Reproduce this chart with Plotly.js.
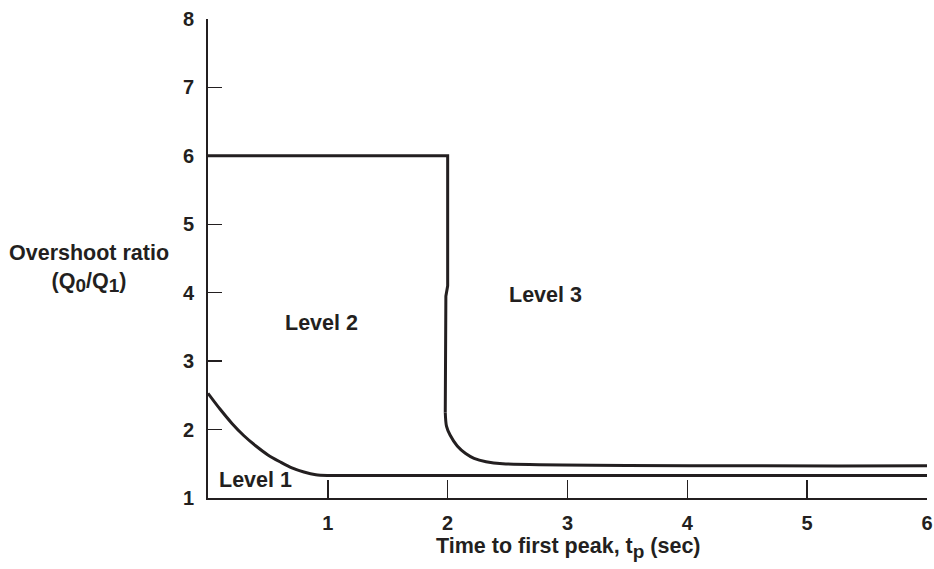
<!DOCTYPE html>
<html>
<head>
<meta charset="utf-8">
<script src="https://cdn.plot.ly/plotly-3.0.1.min.js"></script>
<style>html,body{margin:0;padding:0;background:#fff;}#chart{width:934px;height:569px;}</style>
</head>
<body>
<div id="chart"></div>
<script>
// Level 1 / Level 2 boundary
const level1X = [0, 0.1, 0.2, 0.3, 0.4, 0.5, 0.6, 0.7, 0.8, 0.9, 1.0, 6];
const level1Y = [2.53, 2.30, 2.09, 1.91, 1.76, 1.63, 1.53, 1.44, 1.38, 1.34, 1.33, 1.33];
// Level 2 / Level 3 boundary: upper straight part
const level2TopX = [0, 2, 2, 1.985, 1.98];
const level2TopY = [6, 6, 4.1, 3.95, 2.25];
// Level 2 / Level 3 boundary: lower rounded part
const level2LowX = [1.98, 1.99, 2.02, 2.08, 2.15, 2.22, 2.32, 2.46, 6];
const level2LowY = [2.25, 2.05, 1.92, 1.76, 1.65, 1.58, 1.53, 1.50, 1.47];
// Region labels
const regionNames = ["Level 1", "Level 2", "Level 3"];
const regionX = [0.40, 0.95, 2.82];
const regionY = [1.27, 3.56, 3.97];
// Ticks
const xTicks = [1, 2, 3, 4, 5, 6];
const yTicks = [1, 2, 3, 4, 5, 6, 7, 8];

const ink = '#231f20';
const family = 'Liberation Sans, Arial, sans-serif';
const font = {family: family, size: 21.5, color: ink};
const tickFont = {family: family, size: 20, color: ink};
const lineStyle = {color: ink, width: 3};
const sub = s => '<sub><span style="font-size:19px">' + s + '</span></sub>';

const traces = [
  {x: level1X, y: level1Y, mode: 'lines', line: Object.assign({shape: 'spline', smoothing: 0.8}, lineStyle), cliponaxis: false, hoverinfo: 'skip'},
  {x: level2TopX, y: level2TopY, mode: 'lines', line: Object.assign({shape: 'linear'}, lineStyle), cliponaxis: false, hoverinfo: 'skip'},
  {x: level2LowX, y: level2LowY, mode: 'lines', line: Object.assign({shape: 'spline', smoothing: 0.8}, lineStyle), cliponaxis: false, hoverinfo: 'skip'}
];

const annotations = regionNames.map((t, i) => ({
  text: '<b>' + t + '</b>', x: regionX[i], y: regionY[i], xref: 'x', yref: 'y',
  showarrow: false, xanchor: 'center', yanchor: 'middle', font: font
}));
annotations.push({
  text: '<b>Overshoot ratio</b><br><b>(Q' + sub('<b>0</b>') + '/Q' + sub('<b>1</b>') + ')</b>',
  xref: 'paper', yref: 'paper', x: -0.165, y: 0.48, xanchor: 'center', yanchor: 'middle',
  showarrow: false, font: font, align: 'center'
});
annotations.push({
  text: '<b>Time to first peak, t' + sub('<b>p</b>') + ' (sec)</b>',
  xref: 'paper', yref: 'paper', x: 0.501, y: -0.072, xanchor: 'center', yanchor: 'top',
  showarrow: false, font: font
});

const layout = {
  width: 934, height: 569,
  margin: {l: 208, r: 7, t: 19, b: 71},
  paper_bgcolor: '#fff', plot_bgcolor: '#fff',
  showlegend: false,
  font: font,
  xaxis: {
    range: [0, 6], tickvals: xTicks, ticktext: xTicks.map(v => '<b>' + v + '</b>'),
    ticks: 'inside', ticklen: 18, tickwidth: 1.5, tickcolor: ink,
    showline: true, linecolor: ink, linewidth: 2, showgrid: false, zeroline: false,
    tickfont: tickFont, ticklabelstandoff: 6
  },
  yaxis: {
    range: [1, 8], tickvals: yTicks, ticktext: yTicks.map(v => '<b>' + v + '</b>'),
    ticks: 'inside', ticklen: 14, tickwidth: 1.5, tickcolor: ink,
    showline: true, linecolor: ink, linewidth: 2, showgrid: false, zeroline: false,
    tickfont: tickFont, ticklabelstandoff: 8
  },
  annotations: annotations
};

Plotly.newPlot('chart', traces, layout, {staticPlot: true, displayModeBar: false});
</script>
</body>
</html>
